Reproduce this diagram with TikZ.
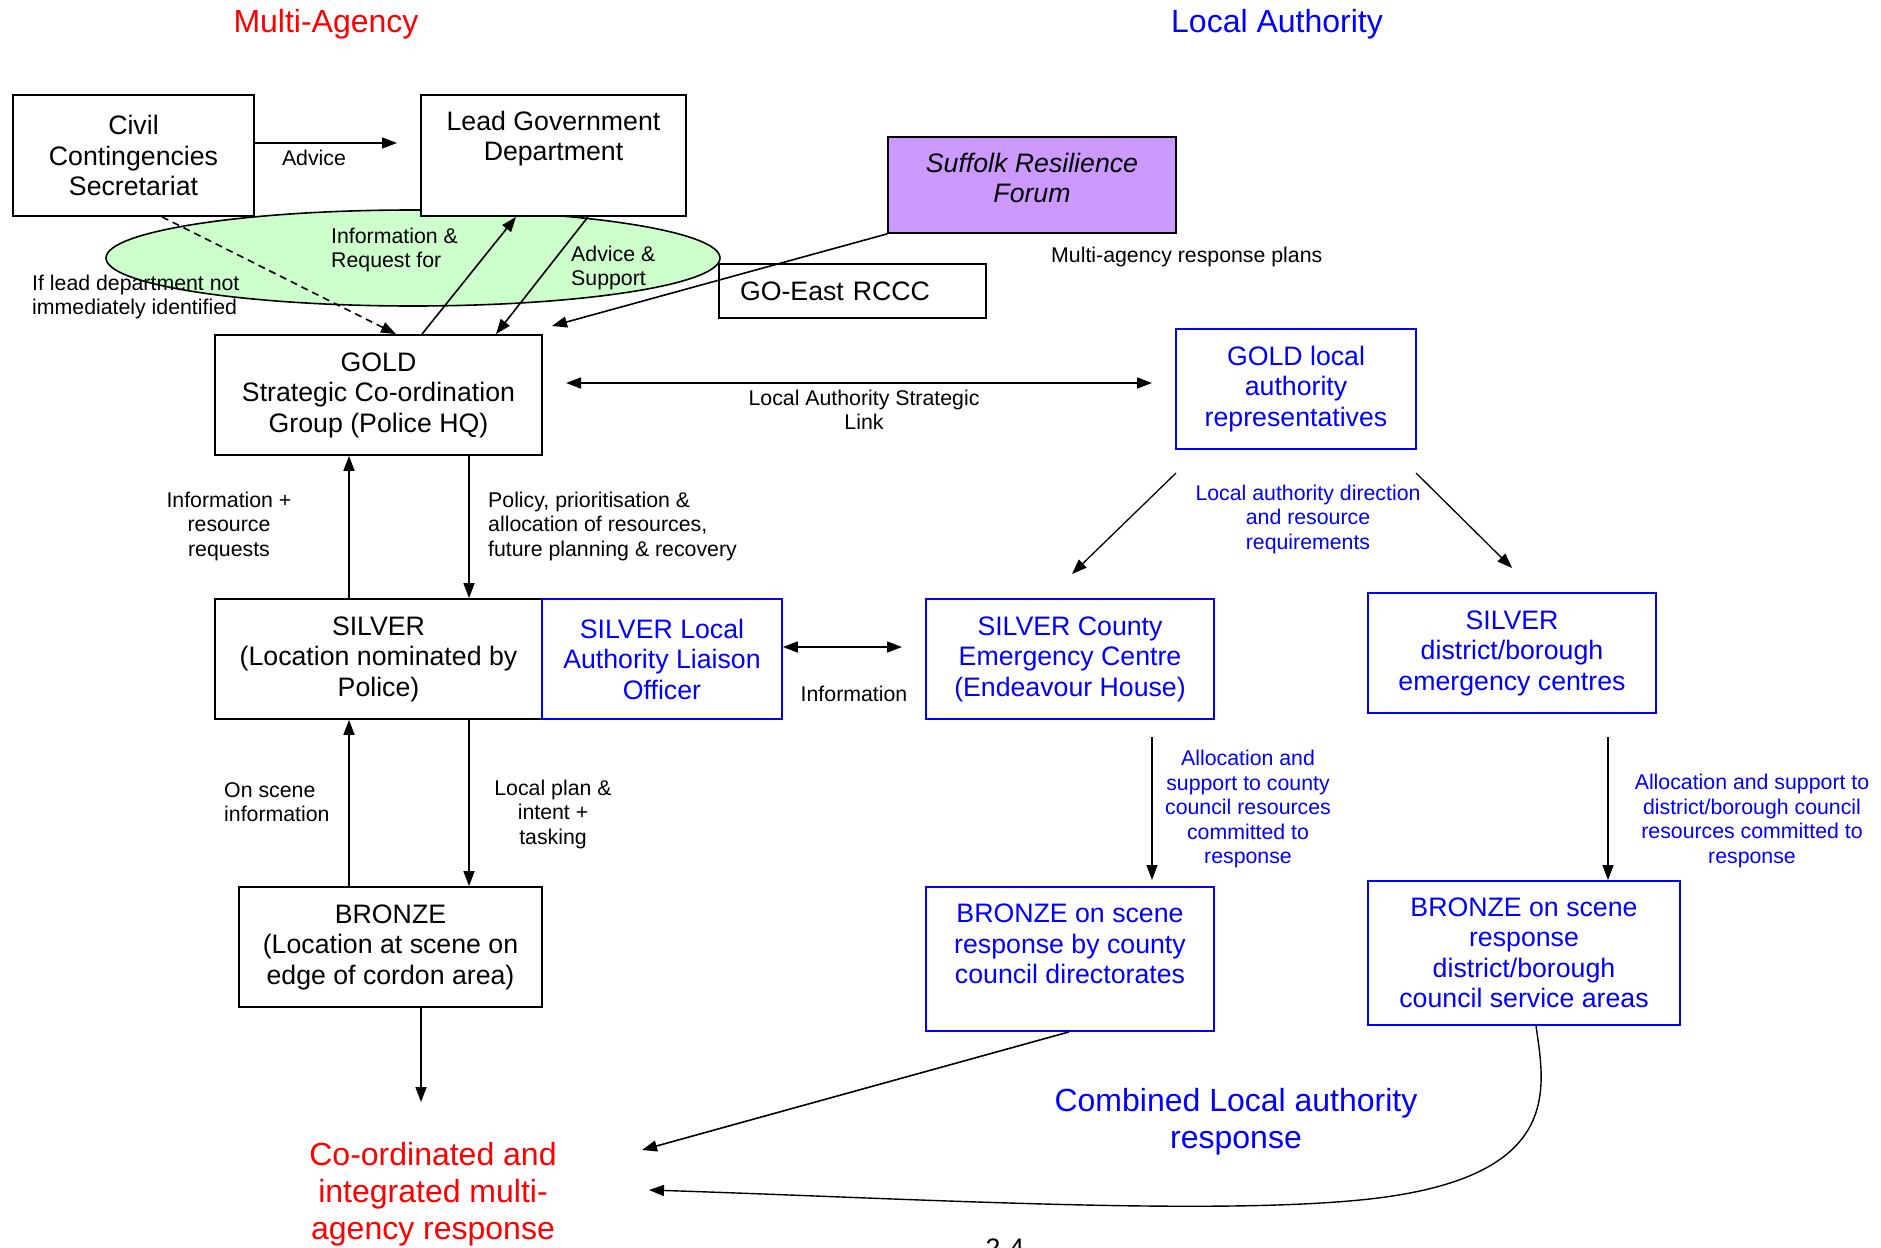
\documentclass[tikz,border=0pt]{standalone}
\usepackage{fontspec}
\setmainfont{Liberation Sans}
\usetikzlibrary{arrows.meta,shapes.geometric}
\definecolor{lablue}{HTML}{0000FF}
\definecolor{mared}{HTML}{FF0000}
\definecolor{srfpurple}{HTML}{CC99FF}
\definecolor{ellgreen}{HTML}{CCFFCC}
\newcommand\myboxfont{\fontsize{26.7}{30.5}\selectfont}
\newcommand\mysmallfont{\fontsize{21.3}{24.5}\selectfont}
\newcommand\mybigfont{\fontsize{32}{37}\selectfont}
\newcommand\topboxtext[4]{\parbox[c][#2][t]{#1}{\centering\vspace*{#3}#4}}
\begin{document}
\begin{tikzpicture}[x=1pt,y=-1pt,
  box/.style={draw, line width=1.8pt, fill=white, inner sep=0pt, align=center, font=\myboxfont},
  labox/.style={box, draw=lablue, text=lablue},
  lbl/.style={inner sep=0pt, font=\mysmallfont, align=center},
  lalbl/.style={lbl, text=lablue},
  arr/.style={line width=1.6pt, -{Triangle[length=15pt,width=11pt]}},
  darr/.style={line width=1.6pt, {Triangle[length=15pt,width=11pt]}-{Triangle[length=15pt,width=11pt]}},
  thinarr/.style={line width=1.3pt, -{Triangle[length=15pt,width=11pt]}}
]
\useasboundingbox (0,0) rectangle (1881,1247);
\clip (0,0) rectangle (1881,1247);

% titles
\node[inner sep=0pt, font=\mybigfont, text=mared] (tma) at (326,24) {Multi-Agency};
\node[inner sep=0pt, font=\mybigfont, text=lablue] (tla) at (1277,24) {Local Authority};

% ellipse
\node[ellipse, draw, line width=1.6pt, fill=ellgreen, minimum width=614pt, minimum height=96pt, inner sep=0pt] (ell) at (413,258) {};

% top boxes
\node[box, minimum width=241pt, minimum height=121pt] (ccs) at (133.5,155.5) {Civil\\Contingencies\\Secretariat};
\node[box, minimum width=265pt, minimum height=121pt] (lgd) at (553.5,155.5) {\topboxtext{265pt}{121pt}{16pt}{Lead Government\\Department}};
\node[box, fill=srfpurple, minimum width=288pt, minimum height=96pt, font=\myboxfont\itshape] (srf) at (1032,185) {\topboxtext{288pt}{96pt}{16pt}{Suffolk Resilience\\Forum}};
\node[draw, line width=1.8pt, inner xsep=21pt, inner ysep=0pt, text width=225pt, align=left, minimum height=54pt, font=\myboxfont] (goe) at (852.5,291) {GO-East RCCC};

% police column
\node[box, minimum width=327pt, minimum height=120pt] (gold) at (378.5,395) {GOLD\\Strategic Co-ordination\\Group (Police HQ)};
\node[box, minimum width=327pt, minimum height=120pt] (silver) at (378.5,659) {SILVER\\(Location nominated by\\Police)};
\node[labox, minimum width=240pt, minimum height=120pt] (sla) at (662,659) {SILVER Local\\Authority Liaison\\Officer};
\node[box, minimum width=303pt, minimum height=120pt] (bronze) at (390.5,947) {BRONZE\\(Location at scene on\\edge of cordon area)};

% local authority column
\node[labox, minimum width=240pt, minimum height=120pt] (gla) at (1296,389) {GOLD local\\authority\\representatives};
\node[labox, minimum width=288pt, minimum height=120pt] (scec) at (1070,659) {SILVER County\\Emergency Centre\\(Endeavour House)};
\node[labox, minimum width=288pt, minimum height=120pt] (sdec) at (1512,653) {SILVER\\district/borough\\emergency centres};
\node[labox, minimum width=288pt, minimum height=144pt] (bcc) at (1070,959) {\topboxtext{288pt}{144pt}{17pt}{BRONZE on scene\\response by county\\council directorates}};
\node[labox, minimum width=312pt, minimum height=144pt] (bdc) at (1524,953) {BRONZE on scene\\response\\district/borough\\council service areas};

% result texts
\node[inner sep=0pt, font=\mybigfont, text=mared, align=center] (res) at (433,1194) {Co-ordinated and\\integrated multi-\\agency response};
\node[inner sep=0pt, font=\mybigfont, text=lablue, align=center] (comb) at (1236,1122) {Combined Local authority\\response};
\node[inner sep=0pt, font=\myboxfont, anchor=north] (pgno) at (1005,1239) {2-4};

% free-end coordinates
\coordinate (advEnd) at (397,143);
\coordinate (srfEnd) at (552,326);
\coordinate (lsA) at (566,383);
\coordinate (lsB) at (1152,383);
\coordinate (glaL) at (1176,473);
\coordinate (glaLEnd) at (1072,574);
\coordinate (glaR) at (1416,473);
\coordinate (glaREnd) at (1512,568);
\coordinate (infA) at (782,647);
\coordinate (infB) at (902,647);
\coordinate (scecOut) at (1152,737);
\coordinate (scecEnd) at (1152,880);
\coordinate (sdecOut) at (1608,737);
\coordinate (bronzeEnd) at (421,1102);
\coordinate (bccEnd) at (642,1150);
\coordinate (bdcEnd) at (649,1190);

% connectors
\draw[arr] (ccs.east |- advEnd) -- (advEnd);
\draw[arr, dashed, dash pattern=on 7pt off 5pt] (162,0 |- ccs.south) -- (396,0 |- gold.north);
\draw[arr] (422,0 |- gold.north) -- (516,0 |- lgd.south);
\draw[arr] (588,0 |- lgd.south) -- (496,0 |- gold.north);
\draw[arr] (srf.south west) -- (srfEnd);
\draw[darr] (lsA) -- (lsB);
\draw[thinarr] (glaL) -- (glaLEnd);
\draw[thinarr] (glaR) -- (glaREnd);
\draw[arr] (349,0 |- silver.north) -- (349,0 |- gold.south);
\draw[arr] (469,0 |- gold.south) -- (469,0 |- silver.north);
\draw[arr] (349,0 |- bronze.north) -- (349,0 |- silver.south);
\draw[arr] (469,0 |- silver.south) -- (469,0 |- bronze.north);
\draw[darr] (sla.east |- infA) -- (infB);
\draw[thinarr] (scecOut) -- (scecEnd);
\draw[thinarr] (sdecOut) -- (sdecOut |- bdc.north);
\draw[arr] (421,0 |- bronze.south) -- (bronzeEnd);
\draw[arr] (1069,0 |- bcc.south) -- (bccEnd);
\draw[arr, line width=1.4pt] (1536,0 |- bdc.south) .. controls (1545,1090) and (1565,1180) .. (1360,1200) .. controls (1200,1215.6) and (900,1198) .. (bdcEnd);

% labels
\node[lbl] (advlbl) at (314,158) {Advice};
\node[lbl, anchor=west, align=left] (irlbl) at (331,250) {Information \&\\Request for};
\node[lbl, anchor=west, align=left] (aslbl) at (571,268) {Advice \&\\Support};
\node[lbl, anchor=west, align=left] (iflbl) at (32,297) {If lead department not\\immediately identified};
\node[lbl, anchor=west, align=left] (marp) at (1051,257) {Multi-agency response plans};
\node[lbl] (lslbl) at (864,410) {Local Authority Strategic\\Link};
\node[lalbl] (ladlbl) at (1308,519) {Local authority direction\\and resource\\requirements};
\node[lbl] (irrlbl) at (229,526) {Information +\\resource\\requests};
\node[lbl, anchor=west, align=left] (polbl) at (488,526) {Policy, prioritisation \&\\allocation of resources,\\future planning \& recovery};
\node[lbl] (inflbl) at (854,694) {Information};
\node[lbl, anchor=west, align=left] (oslbl) at (224,802) {On scene\\information};
\node[lbl] (lplbl) at (553,814) {Local plan \&\\intent +\\tasking};
\node[lalbl] (accl) at (1248,809) {Allocation and\\support to county\\council resources\\committed to\\response};
\node[lalbl] (adbl) at (1752,821) {Allocation and support to\\district/borough council\\resources committed to\\response};
\end{tikzpicture}
\end{document}
